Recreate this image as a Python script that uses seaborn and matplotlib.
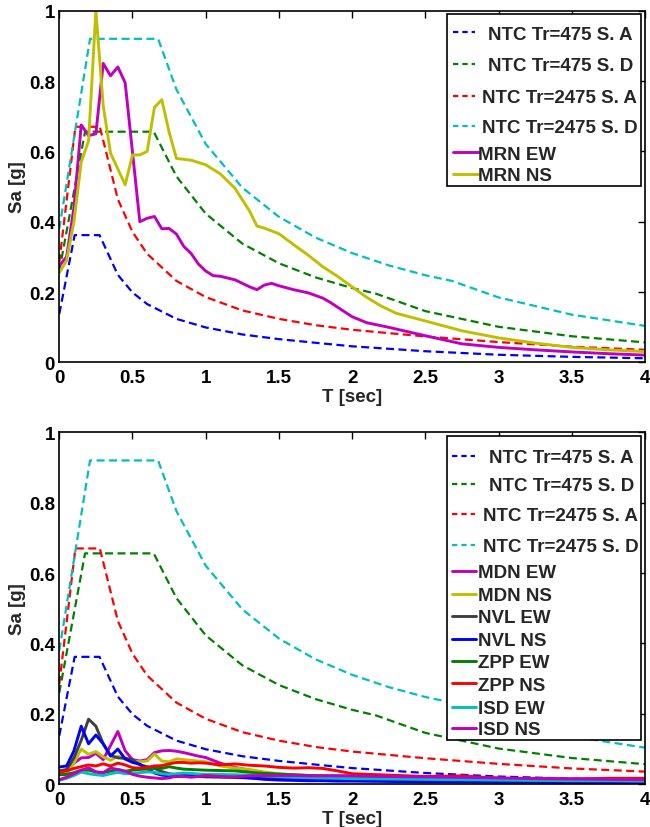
import numpy as np
import pandas as pd
import matplotlib
matplotlib.use("Agg")
import matplotlib.pyplot as plt
import seaborn as sns
from matplotlib.patches import Rectangle
from matplotlib.lines import Line2D
from matplotlib.ticker import MultipleLocator, FuncFormatter

# ---------------- data: NTC design spectra ----------------
ntc475A_T = [0, 0.105, 0.275, 0.4, 0.5, 0.6, 0.8, 1.0, 1.25, 1.5, 1.75, 2.0, 2.5, 3.0, 3.5, 4.0]
ntc475A_Sa = [0.138, 0.362, 0.362, 0.249, 0.199, 0.166, 0.124, 0.0996, 0.0797, 0.0664, 0.056, 0.046, 0.032, 0.022, 0.016, 0.012]

ntc475D_T = [0, 0.176, 0.645, 0.8, 1.0, 1.25, 1.5, 1.75, 2.0, 2.16, 2.5, 3.0, 3.5, 4.0]
ntc475D_Sa = [0.26, 0.656, 0.656, 0.529, 0.423, 0.338, 0.282, 0.242, 0.2115, 0.196, 0.146, 0.1015, 0.0746, 0.0571]

ntc2475A_T = [0, 0.11, 0.277, 0.4, 0.5, 0.6, 0.8, 1.0, 1.25, 1.5, 1.75, 2.0, 2.5, 3.0, 3.5, 4.0]
ntc2475A_Sa = [0.285, 0.67, 0.67, 0.464, 0.371, 0.309, 0.232, 0.186, 0.148, 0.124, 0.106, 0.093, 0.074, 0.058, 0.045, 0.036]

ntc2475D_T = [0, 0.21, 0.675, 0.8, 1.0, 1.25, 1.5, 1.75, 2.0, 2.25, 2.5, 2.68, 3.0, 3.5, 4.0]
ntc2475D_Sa = [0.38, 0.92, 0.92, 0.776, 0.621, 0.497, 0.414, 0.355, 0.311, 0.276, 0.248, 0.232, 0.185, 0.136, 0.104]

ntc_labels = ["NTC Tr=475 S. A", "NTC Tr=475 S. D", "NTC Tr=2475 S. A", "NTC Tr=2475 S. D"]
ntc_colors = ["#0000ff", "#008000", "#ff0000", "#00bfbf"]

# ---------------- data: MRN record (top panel) ----------------
mrnEW_T = [0, 0.05, 0.1, 0.15, 0.2, 0.25, 0.3, 0.35, 0.4, 0.45, 0.55, 0.6, 0.65, 0.7, 0.75, 0.8,
           0.85, 0.9, 0.95, 1.0, 1.05, 1.1, 1.15, 1.2, 1.3, 1.35, 1.4, 1.45, 1.5, 1.6, 1.7, 1.8,
           1.85, 2.0, 2.1, 2.25, 2.5, 2.75, 3.0, 3.25, 3.5, 3.75, 4.0]
mrnEW_Sa = [0.275, 0.30, 0.44, 0.675, 0.645, 0.65, 0.85, 0.815, 0.84, 0.795, 0.40, 0.41, 0.415, 0.38, 0.381, 0.365,
            0.33, 0.31, 0.28, 0.26, 0.247, 0.245, 0.24, 0.235, 0.215, 0.207, 0.22, 0.225, 0.218, 0.207, 0.198, 0.183,
            0.171, 0.13, 0.113, 0.10, 0.076, 0.053, 0.043, 0.036, 0.030, 0.025, 0.021]

mrnNS_T = [0, 0.05, 0.1, 0.15, 0.2, 0.25, 0.3, 0.35, 0.4, 0.45, 0.5, 0.55, 0.6, 0.65, 0.7, 0.75, 0.8,
           0.9, 1.0, 1.1, 1.2, 1.3, 1.35, 1.4, 1.5, 1.6, 1.7, 1.8, 1.9, 2.0, 2.1, 2.2, 2.3, 2.5,
           2.75, 3.0, 3.25, 3.5, 3.75, 4.0]
mrnNS_Sa = [0.255, 0.29, 0.40, 0.57, 0.63, 1.0, 0.73, 0.595, 0.55, 0.505, 0.59, 0.59, 0.60, 0.725, 0.747, 0.655, 0.58,
            0.575, 0.562, 0.536, 0.495, 0.43, 0.388, 0.382, 0.366, 0.335, 0.305, 0.272, 0.245, 0.215, 0.185, 0.16, 0.14, 0.118,
            0.09, 0.07, 0.055, 0.043, 0.036, 0.031]

top_labels = ["MRN EW", "MRN NS"]
top_colors = ["#bf00bf", "#bfbf00"]

# ---------------- data: other stations (bottom panel) ----------------
T_low = [0, 0.05, 0.1, 0.15, 0.2, 0.25, 0.3, 0.35, 0.4, 0.45, 0.5, 0.55, 0.6, 0.65, 0.7, 0.75, 0.8,
         0.85, 0.9, 0.95, 1.0, 1.1, 1.2, 1.3, 1.4, 1.5, 1.6, 1.7, 1.8, 1.9, 2.0, 2.25, 2.5, 2.75,
         3.0, 3.25, 3.5, 3.75, 4.0]
mdnEW = [0.036, 0.04, 0.06, 0.075, 0.076, 0.088, 0.07, 0.11, 0.15, 0.095, 0.07, 0.066, 0.07, 0.09, 0.095, 0.096, 0.094,
         0.09, 0.085, 0.08, 0.076, 0.06, 0.048, 0.04, 0.032, 0.028, 0.026, 0.025, 0.025, 0.024, 0.023, 0.022, 0.02, 0.019,
         0.017, 0.016, 0.015, 0.014, 0.013]
mdnNS = [0.028, 0.03, 0.06, 0.1, 0.085, 0.093, 0.078, 0.068, 0.08, 0.071, 0.066, 0.064, 0.066, 0.086, 0.066, 0.064, 0.072,
         0.07, 0.068, 0.066, 0.064, 0.052, 0.046, 0.042, 0.035, 0.03, 0.027, 0.025, 0.024, 0.022, 0.021, 0.019, 0.017, 0.016,
         0.014, 0.013, 0.012, 0.011, 0.01]
nvlEW = [0.038, 0.042, 0.075, 0.125, 0.185, 0.165, 0.115, 0.082, 0.075, 0.074, 0.07, 0.055, 0.05, 0.045, 0.036, 0.03, 0.027,
         0.025, 0.023, 0.022, 0.021, 0.02, 0.019, 0.018, 0.017, 0.016, 0.015, 0.014, 0.013, 0.012, 0.012, 0.011, 0.01, 0.009,
         0.008, 0.008, 0.007, 0.007, 0.006]
nvlNS = [0.049, 0.052, 0.095, 0.165, 0.115, 0.14, 0.115, 0.08, 0.10, 0.072, 0.062, 0.057, 0.045, 0.032, 0.026, 0.024, 0.022,
         0.024, 0.025, 0.026, 0.024, 0.025, 0.022, 0.018, 0.014, 0.012, 0.011, 0.01, 0.01, 0.009, 0.009, 0.008, 0.007, 0.007,
         0.006, 0.006, 0.005, 0.005, 0.005]
zppEW = [0.027, 0.028, 0.033, 0.04, 0.04, 0.035, 0.033, 0.037, 0.042, 0.037, 0.04, 0.042, 0.043, 0.046, 0.045, 0.05, 0.046,
         0.043, 0.042, 0.041, 0.04, 0.039, 0.038, 0.034, 0.031, 0.029, 0.027, 0.025, 0.023, 0.021, 0.02, 0.018, 0.016, 0.015,
         0.013, 0.012, 0.012, 0.011, 0.011]
zppNS = [0.034, 0.038, 0.045, 0.05, 0.055, 0.052, 0.058, 0.052, 0.06, 0.055, 0.047, 0.046, 0.048, 0.052, 0.053, 0.058, 0.062,
         0.062, 0.06, 0.061, 0.06, 0.055, 0.058, 0.054, 0.052, 0.048, 0.046, 0.047, 0.045, 0.038, 0.03, 0.026, 0.022, 0.024,
         0.017, 0.015, 0.015, 0.017, 0.017]
isdEW = [0.011, 0.017, 0.025, 0.035, 0.03, 0.027, 0.025, 0.03, 0.034, 0.03, 0.031, 0.033, 0.035, 0.034, 0.03, 0.028, 0.03,
         0.032, 0.031, 0.029, 0.028, 0.028, 0.027, 0.026, 0.024, 0.022, 0.02, 0.019, 0.018, 0.017, 0.016, 0.015, 0.014, 0.013,
         0.012, 0.011, 0.01, 0.01, 0.009]
isdNS = [0.013, 0.02, 0.03, 0.04, 0.047, 0.035, 0.033, 0.046, 0.042, 0.037, 0.028, 0.023, 0.02, 0.018, 0.016, 0.018, 0.023,
         0.022, 0.02, 0.022, 0.025, 0.022, 0.021, 0.024, 0.025, 0.025, 0.025, 0.024, 0.024, 0.024, 0.024, 0.022, 0.021, 0.02,
         0.018, 0.016, 0.015, 0.014, 0.013]

low_labels = ["MDN EW", "MDN NS", "NVL EW", "NVL NS", "ZPP EW", "ZPP NS", "ISD EW", "ISD NS"]
low_colors = ["#bf00bf", "#bfbf00", "#404040", "#0000ff", "#008000", "#ff0000", "#00bfbf", "#bf00bf"]
low_series = [mdnEW, mdnNS, nvlEW, nvlNS, zppEW, zppNS, isdEW, isdNS]

x_ticks = [0, 0.5, 1, 1.5, 2, 2.5, 3, 3.5, 4]
y_ticks = [0, 0.2, 0.4, 0.6, 0.8, 1]

# ---------------- style ----------------
sns.set_theme(style="white")
plt.rcParams["font.family"] = ["Liberation Sans", "DejaVu Sans"]
plt.rcParams["font.weight"] = "bold"
plt.rcParams["axes.labelweight"] = "bold"
FS = 13.5
DASH = (3.6, 2.0)
LW_D = 1.6
LW_S = 2.1

fig = plt.figure(figsize=(6.5, 8.28), dpi=100)
ax1 = fig.add_axes([0.0912, 0.5610, 0.9011, 0.4249])
ax2 = fig.add_axes([0.0912, 0.0516, 0.9011, 0.4251])

ntc_T = [ntc475A_T, ntc475D_T, ntc2475A_T, ntc2475D_T]
ntc_Sa = [ntc475A_Sa, ntc475D_Sa, ntc2475A_Sa, ntc2475D_Sa]


def plot_ntc(ax):
    for T, S, c in zip(ntc_T, ntc_Sa, ntc_colors):
        sns.lineplot(x=T, y=S, ax=ax, color=c, lw=LW_D, linestyle="--",
                     estimator=None, sort=False, legend=False)
        ax.lines[-1].set_dashes(DASH)


plot_ntc(ax1)
sns.lineplot(x=mrnEW_T, y=mrnEW_Sa, ax=ax1, color=top_colors[0], lw=LW_S,
             estimator=None, sort=False, legend=False)
sns.lineplot(x=mrnNS_T, y=mrnNS_Sa, ax=ax1, color=top_colors[1], lw=LW_S,
             estimator=None, sort=False, legend=False)

plot_ntc(ax2)
for S, c in zip(low_series, low_colors):
    sns.lineplot(x=T_low, y=S, ax=ax2, color=c, lw=LW_S,
                 estimator=None, sort=False, legend=False)


def style_axes(ax):
    ax.set_xlim(0, 4)
    ax.set_ylim(0, 1)
    ax.set_xticks(x_ticks)
    ax.set_yticks(y_ticks)
    fmt = FuncFormatter(lambda v, p: f"{v:g}")
    ax.xaxis.set_major_formatter(fmt)
    ax.yaxis.set_major_formatter(fmt)
    ax.tick_params(direction="in", length=5, width=1.0, top=True, right=True,
                   labelsize=FS, pad=5, colors="black")
    ax.tick_params(axis="y", pad=3)
    for s in ax.spines.values():
        s.set_visible(True)
        s.set_color("black")
        s.set_linewidth(1.2)
    ax.set_xlabel("T [sec]", fontsize=FS, fontweight="bold", labelpad=1)
    ax.set_ylabel("Sa [g]", fontsize=FS, fontweight="bold", labelpad=2)


style_axes(ax1)
style_axes(ax2)


def draw_legend(ax, labels, colors, styles, text_x, rows, box, hx):
    x0, x1, y0, y1 = box
    ax.add_artist(Rectangle((x0, y0), x1 - x0, y1 - y0, transform=ax.transAxes,
                            facecolor="white", edgecolor="black", lw=1.2,
                            zorder=10, clip_on=False))
    for lab, col, ls, tx, ry in zip(labels, colors, styles, text_x, rows):
        if ls == "--":
            ln = Line2D([hx[0], hx[1]], [ry, ry], transform=ax.transAxes, color=col,
                        lw=LW_D, linestyle="--", zorder=11)
            ln.set_dashes((2.4, 1.8))
        else:
            ln = Line2D([hx[0], hx[2]], [ry, ry], transform=ax.transAxes, color=col,
                        lw=LW_S, zorder=11)
        ax.add_artist(ln)
        ax.text(tx, ry, lab, transform=ax.transAxes, fontsize=FS, fontweight="bold",
                ha="left", va="center_baseline", zorder=12)


draw_legend(ax1, ntc_labels + top_labels, ntc_colors + top_colors,
            ["--"] * 4 + ["-"] * 2,
            [0.7325, 0.7325, 0.7212, 0.7212, 0.7155, 0.7155],
            [0.9386, 0.8485, 0.7584, 0.6731, 0.5975, 0.5358],
            (0.6614, 0.9927, 0.5017, 0.9906), (0.6717, 0.7098, 0.7166))

draw_legend(ax2, ntc_labels + low_labels, ntc_colors + low_colors,
            ["--"] * 4 + ["-"] * 8,
            [0.7342, 0.7342, 0.7229, 0.7229] + [0.7154] * 8,
            [0.9335, 0.8531, 0.7679, 0.6798, 0.6068, 0.5406, 0.479, 0.4128,
             0.3511, 0.2869, 0.2205, 0.16],
            (0.6614, 0.9935, 0.1259, 0.9903), (0.670, 0.7098, 0.7115))

fig.savefig("out.png", dpi=100)
